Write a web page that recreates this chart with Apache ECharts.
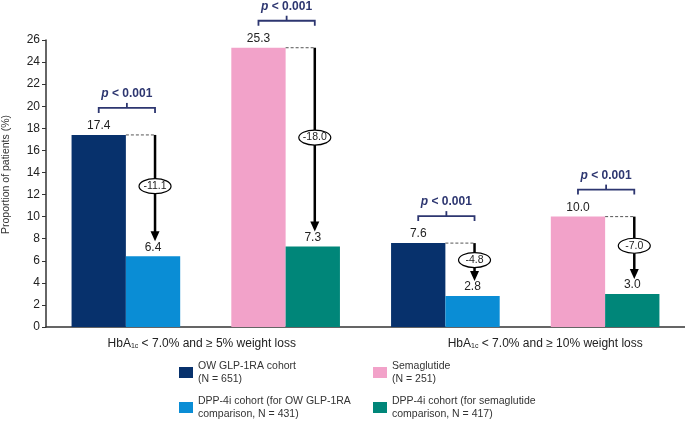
<!DOCTYPE html>
<html>
<head>
<meta charset="utf-8">
<script src="https://cdn.jsdelivr.net/npm/echarts@6/dist/echarts.min.js"></script>
<style>
  html, body { margin: 0; padding: 0; background: #fff; }
  #container { width: 685px; height: 427px; }
</style>
</head>
<body>
<div id="container"></div>
<script>
// four bar pairs, two outcome groups
var categories = ['5%-ow', '5%-sema', '10%-ow', '10%-sema'];
var groupLabels = ['HbA{sub|1c} < 7.0% and \u2265 5% weight loss', 'HbA{sub|1c} < 7.0% and \u2265 10% weight loss'];

var owGlp = [17.4, '-', 7.6, '-'];
var sema = ['-', 25.3, '-', 10.0];
var dppOw = [6.4, '-', 2.8, '-'];
var dppSema = ['-', 7.3, '-', 3.0];

var leftVals = [17.4, 25.3, 7.6, 10.0];
var rightVals = [6.4, 7.3, 2.8, 3.0];
var diffLabels = ['-11.1', '-18.0', '-4.8', '-7.0'];
var pLabel = '< 0.001';

var yTicks = { min: 0, max: 26, interval: 2 };

var names = [
  'OW GLP-1RA cohort\n(N = 651)',
  'Semaglutide\n(N = 251)',
  'DPP-4i cohort (for OW GLP-1RA\ncomparison, N = 431)',
  'DPP-4i cohort (for semaglutide\ncomparison, N = 417)'
];
var colors = ['#07316c', '#f2a2c9', '#0a8dd5', '#008679'];

var FONT = "'Liberation Sans', Arial, sans-serif";
var NAVY = '#2d3670';

var chart = echarts.init(document.getElementById('container'));

function barSeries(i, stack, data) {
  return {
    name: names[i],
    type: 'bar',
    stack: stack,
    data: data,
    barWidth: '34%',
    barGap: '0%',
    itemStyle: { color: colors[i] },
    label: {
      show: true,
      position: 'top',
      distance: 3,
      fontFamily: FONT,
      fontSize: 12,
      color: '#222',
      formatter: function (p) { return Number(p.value).toFixed(1); }
    }
  };
}

function legendAt(i, left, top) {
  return {
    data: [names[i]],
    left: left,
    top: top,
    padding: 0,
    icon: 'rect',
    itemWidth: 14,
    itemHeight: 11,
    itemGap: 5,
    selectedMode: false,
    textStyle: { fontFamily: FONT, fontSize: 10.5, lineHeight: 13, color: '#333', padding: [13, 0, 0, 0] }
  };
}

var annot = {
  type: 'custom',
  clip: false,
  silent: true,
  z: 5,
  data: leftVals.map(function (v, i) { return [i, v, rightVals[i]]; }),
  renderItem: function (params, api) {
    var i = params.dataIndex;
    var lv = api.value(1), rv = api.value(2);
    var top = api.coord([i, lv]);
    var bot = api.coord([i, rv]);
    var band = api.size([1, 0])[0];
    var bw = band * 0.34;
    var cx = top[0];
    var ax = cx + bw / 2 + 2;
    var yTop = top[1];
    var yTip = bot[1] - 15;
    var yb = Math.min(yTop, bot[1]) - 27;
    var xl = cx - bw / 2, xr = ax, xm = (xl + xr) / 2;
    var ym = (yTop + yTip) / 2 - 2;
    return {
      type: 'group',
      children: [
        { type: 'line', shape: { x1: cx, y1: yTop, x2: ax, y2: yTop },
          style: { stroke: '#555', lineWidth: 1, lineDash: [3, 2] } },
        { type: 'line', shape: { x1: ax, y1: yTop, x2: ax, y2: yTip - 8 },
          style: { stroke: '#000', lineWidth: 2.5 } },
        { type: 'polygon', shape: { points: [[ax - 4.5, yTip - 10], [ax + 4.5, yTip - 10], [ax, yTip]] },
          style: { fill: '#000' } },
        { type: 'ellipse', shape: { cx: ax, cy: ym, rx: 16, ry: 7.5 },
          style: { fill: '#fff', stroke: '#000', lineWidth: 1.2 } },
        { type: 'text', x: ax, y: ym,
          style: { text: diffLabels[i], fontFamily: FONT, fontSize: 10.5, fill: '#222', align: 'center', verticalAlign: 'middle' } },
        { type: 'polyline', shape: { points: [[xl, yb + 5], [xl, yb], [xr, yb], [xr, yb + 5]] },
          style: { stroke: NAVY, lineWidth: 1.8, fill: null } },
        { type: 'line', shape: { x1: xm, y1: yb, x2: xm, y2: yb - 5 },
          style: { stroke: NAVY, lineWidth: 1.8 } },
        { type: 'text', x: xm, y: yb - 8,
          style: {
            text: '{i|p} {b|' + pLabel + '}',
            align: 'center', verticalAlign: 'bottom',
            rich: {
              i: { fontFamily: FONT, fontSize: 12, fontWeight: 'bold', fontStyle: 'italic', fill: NAVY },
              b: { fontFamily: FONT, fontSize: 12, fontWeight: 'bold', fill: NAVY }
            }
          } }
      ]
    };
  }
};

var opt = {
  backgroundColor: '#fff',
  animation: false,
  textStyle: { fontFamily: FONT },
  grid: { left: 46, right: 0, top: 40, bottom: 100, containLabel: false, outerBoundsMode: 'none' },
  legend: [
    legendAt(0, 179, 353),
    legendAt(1, 373, 353),
    legendAt(2, 179, 388),
    legendAt(3, 373, 388)
  ],
  xAxis: [
    {
      type: 'category',
      data: categories,
      axisLine: { lineStyle: { color: '#333', width: 1.5 } },
      axisTick: { show: false },
      axisLabel: { show: false }
    },
    {
      type: 'category',
      position: 'bottom',
      data: [
        { value: groupLabels[0], textStyle: { padding: [0, 8, 0, 0] } },
        { value: groupLabels[1], textStyle: { padding: [0, 0, 0, 40] } }
      ],
      axisLine: { show: false },
      axisTick: { show: false },
      axisLabel: {
        margin: 10,
        fontFamily: FONT,
        fontSize: 12,
        color: '#222',
        rich: { sub: { fontSize: 7, verticalAlign: 'bottom', padding: [6, 0, 0, 0], color: '#222' } }
      }
    }
  ],
  yAxis: {
    type: 'value',
    min: yTicks.min,
    max: yTicks.max,
    interval: yTicks.interval,
    name: 'Proportion of patients (%)',
    nameLocation: 'middle',
    nameGap: 34,
    nameTextStyle: { fontFamily: FONT, fontSize: 10.5, color: '#333', padding: [0, 0, 0, 18] },
    axisLine: { show: true, lineStyle: { color: '#333', width: 1.5 } },
    axisTick: { show: true, length: 4, lineStyle: { color: '#333' } },
    axisLabel: { fontFamily: FONT, fontSize: 12, color: '#222', margin: 6 },
    splitLine: { show: false }
  },
  series: [
    barSeries(0, 'left', owGlp),
    barSeries(1, 'left', sema),
    barSeries(2, 'right', dppOw),
    barSeries(3, 'right', dppSema),
    annot
  ]
};

chart.setOption(opt);
</script>
</body>
</html>
